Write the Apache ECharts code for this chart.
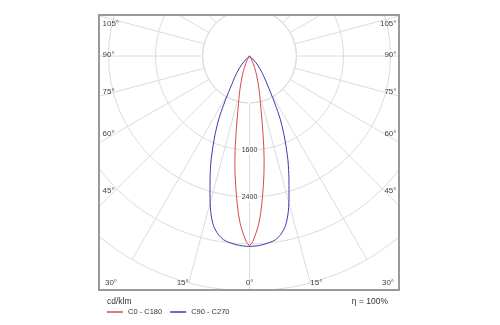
<!DOCTYPE html>
<html><head><meta charset="utf-8">
<script src="https://cdn.jsdelivr.net/npm/echarts/dist/echarts.min.js"></script>
<style>html,body{margin:0;padding:0;background:#fff}#c{width:500px;height:325px}</style>
</head><body><div id="c"></div>
<script>
// ---- data (cd/klm) ----
const redGamma  = [0,1,2,3,4,5,6,7,8,9,10,11,12,13,14,16,18,20,22,24,26,28,30,32,34,36];
const c0   = [3230,3160,3030,2890,2700,2470,2240,2020,1790,1550,1310,1110,950,830,740,590,460,360,280,210,150,105,70,40,15,0];
const c180 = [3230,3160,3030,2890,2700,2470,2240,2020,1790,1550,1310,1110,950,830,740,590,460,360,280,210,150,105,70,40,15,0];
const blueGamma = [0,2,4,6,8,10,12,14,16,18,20,22,24,26,28,30,32,34,36,38,40,42,44,46,48,50];
const c90  = [3240,3235,3220,3195,3160,3080,2950,2730,2440,2170,1920,1660,1420,1190,930,720,570,470,390,320,260,205,150,95,45,0];
const c270 = [3240,3235,3220,3195,3160,3080,2950,2730,2440,2170,1920,1660,1420,1190,930,720,570,470,390,320,260,205,150,95,45,0];
const seriesNames = ['C0 - C180', 'C90 - C270'];
const radiusLabels = ['1600', '2400'];
const angleLabels = ['0°','15°','30°','45°','60°','75°','90°','105°'];
const unitLabel = 'cd/klm';
const effLabel = 'η = 100%';

// ---- layout ----
const CX = 249.5, CY = 56, R0 = 47, R1 = 235;
const BOX = {x: 99, y: 15, w: 300, h: 275};
const FONT = 'Liberation Sans, Arial, sans-serif';
const GRID = '#dcdcdc';
// label anchor per angle label (left half; right half mirrored)
const labelPos = [
  {x: 249.5, y: 282.5, align: 'center'},
  {x: 182.7, y: 282.5, align: 'center'},
  {x: 111,   y: 282.5, align: 'center'},
  {x: 102.5, y: 191,   align: 'left'},
  {x: 102.5, y: 134,   align: 'left'},
  {x: 102.5, y: 92,    align: 'left'},
  {x: 102.5, y: 55,    align: 'left'},
  {x: 102.5, y: 24,    align: 'left'}
];

function buildPath(gamma, leftVals, rightVals) {
  const pts = [];
  for (let i = gamma.length - 1; i >= 0; i--) pts.push([leftVals[i], gamma[i]]);
  for (let i = 0; i < gamma.length; i++) pts.push([rightVals[i], 360 - gamma[i]]);
  return pts;
}

const graphics = [];
// blank inner disk (radial lines start at the first ring)
graphics.push({type:'circle', z:0.5, silent:true, shape:{cx:CX, cy:CY, r:R0}, style:{fill:'#fff', stroke:GRID, lineWidth:1}});
// masks outside the frame
[[0,0,500,BOX.y-1],[0,BOX.y+BOX.h+1,500,60],[0,0,BOX.x-1,325],[BOX.x+BOX.w+1,0,120,325]].forEach(r => {
  graphics.push({type:'rect', z:100, silent:true, shape:{x:r[0],y:r[1],width:r[2],height:r[3]}, style:{fill:'#fff'}});
});
graphics.push({type:'rect', z:101, silent:true, shape:{x:BOX.x,y:BOX.y,width:BOX.w,height:BOX.h},
  style:{fill:'none', stroke:'#9a9a9a', lineWidth:2}});
angleLabels.forEach((t, i) => {
  const p = labelPos[i];
  graphics.push({type:'text', z:150, silent:true, x:p.x, y:p.y,
    style:{text:t, fill:'#444', fontSize:8, fontFamily:FONT, align:p.align, verticalAlign:'middle'}});
  if (i > 0) {
    const ma = p.align === 'left' ? 'right' : p.align;
    graphics.push({type:'text', z:150, silent:true, x:2*CX - p.x, y:p.y,
      style:{text:t, fill:'#444', fontSize:8, fontFamily:FONT, align:ma, verticalAlign:'middle'}});
  }
});

const chart = echarts.init(document.getElementById('c'), null, {renderer:'canvas'});
chart.setOption({
  animation: false,
  backgroundColor: '#fff',
  title: [
    {text: unitLabel, left: 102, top: 292, z: 200, textStyle:{fontSize:8.5, fontWeight:'normal', color:'#333', fontFamily:FONT}},
    {text: effLabel, right: 107, top: 292, z: 200, textStyle:{fontSize:8.5, fontWeight:'normal', color:'#333', fontFamily:FONT}}
  ],
  legend: {
    data: seriesNames, left: 102, top: 303, z: 200, icon: 'rect', itemWidth: 16, itemHeight: 2, itemGap: 8,
    textStyle: {fontSize: 7.5, color: '#333', fontFamily: FONT}
  },
  polar: {center: [CX, CY], radius: [0, R1]},
  angleAxis: {
    type: 'value', min: 0, max: 360, interval: 15, startAngle: 270, clockwise: true, z: 0,
    axisLine: {show: false}, axisTick: {show: false}, axisLabel: {show: false},
    splitLine: {show: true, lineStyle: {color: GRID, width: 1}}
  },
  radiusAxis: {
    type: 'value', min: 0, max: 4000, interval: 800, z: 1,
    axisLine: {show: false}, axisTick: {show: false},
    axisLabel: {show: true, margin: 0, align: 'center', verticalAlign: 'middle', fontSize: 7, color: '#333',
      fontFamily: FONT, backgroundColor: '#fff', padding: [1, 1],
      formatter: v => radiusLabels.includes(String(v)) ? String(v) : ''},
    splitLine: {show: true, lineStyle: {color: GRID, width: 1}}
  },
  series: [
    {name: seriesNames[0], type: 'line', coordinateSystem: 'polar', clip: false, symbol: 'none', showSymbol: false,
     data: buildPath(redGamma, c180, c0), lineStyle: {color: '#d84a4a', width: 1}, itemStyle: {color: '#e07878'}, z: 3},
    {name: seriesNames[1], type: 'line', coordinateSystem: 'polar', clip: false, symbol: 'none', showSymbol: false, smooth: 0.3,
     data: buildPath(blueGamma, c270, c90), lineStyle: {color: '#3a3aae', width: 1}, itemStyle: {color: '#6a6ad0'}, z: 3}
  ],
  graphic: graphics
});
</script></body></html>
